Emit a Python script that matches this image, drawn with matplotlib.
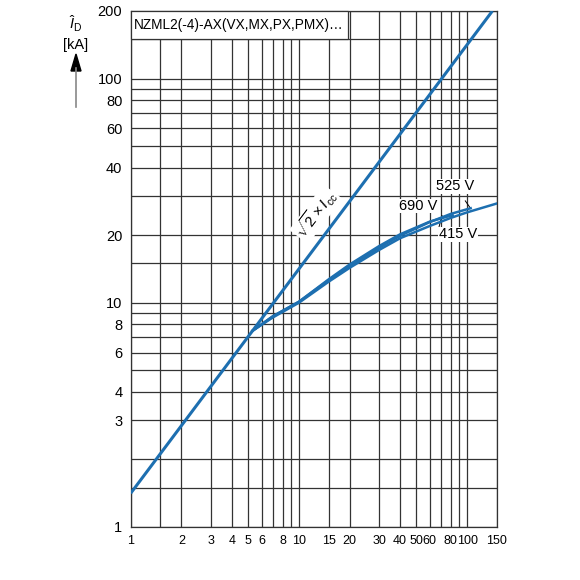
import matplotlib
matplotlib.use('Agg')
import matplotlib.pyplot as plt
import numpy as np
from matplotlib.patches import Rectangle, Polygon
from matplotlib.lines import Line2D

plt.rcParams['font.family'] = ['Liberation Sans', 'DejaVu Sans']
plt.rcParams['mathtext.fontset'] = 'custom'
plt.rcParams['mathtext.rm'] = 'Liberation Sans'
plt.rcParams['mathtext.it'] = 'Liberation Sans:italic'

# grid and tick values
x_grid = [1, 1.5, 2, 3, 4, 5, 6, 7, 8, 9, 10, 15, 20, 30, 40, 50, 60, 70, 80, 90, 100, 150]
x_labels = ['1', '', '2', '3', '4', '5', '6', '', '8', '', '10', '15', '20', '30', '40',
            '50', '60', '', '80', '', '100', '150']
y_grid = [1, 1.5, 2, 3, 4, 5, 6, 7, 8, 9, 10, 15, 20, 30, 40, 50, 60, 70, 80, 90, 100, 150, 200]
y_labels = ['1', '', '', '3', '4', '', '6', '', '8', '', '10', '', '20', '', '40', '',
            '60', '', '80', '', '100', '', '200']

# peak current sqrt(2) x Icc
icc = [1, 141.4]
ip_peak = [1.414, 200]

# let-through curves
x_415 = [5.3, 7, 10, 15, 20, 30, 40, 60, 80, 100, 150]
y_415 = [7.5, 8.6, 10.0, 12.4, 14.3, 17.2, 19.4, 22.0, 23.9, 25.3, 27.7]
x_525 = [5.3, 7, 10, 15, 20, 30, 40, 60, 80, 105]
y_525 = [7.5, 8.7, 10.1, 12.6, 14.6, 17.6, 19.9, 22.9, 24.9, 26.4]
x_690 = [5.3, 7, 10, 15, 20, 30, 40, 60, 82]
y_690 = [7.5, 8.7, 10.1, 12.7, 14.8, 17.9, 20.2, 23.0, 24.6]

blue = '#1d6fb0'
fs = 10.5

fig = plt.figure(figsize=(5.8, 5.8), dpi=100)
ax = fig.add_axes([130.7/580, 1-527/580, (496.7-130.7)/580, (527-11)/580])
ax.set_xscale('log')
ax.set_yscale('log')
ax.set_xlim(1, 150)
ax.set_ylim(1, 200)
ax.set_xticks(x_grid)
ax.set_xticklabels(x_labels)
ax.set_yticks(y_grid)
ax.set_yticklabels(y_labels)
ax.minorticks_off()
ax.tick_params(length=0, labelsize=fs, pad=6)
ax.tick_params(axis='x', labelsize=9)
ax.grid(True, color='#333333', lw=0.9)
for s in ax.spines.values():
    s.set_color('#333333')
    s.set_linewidth(0.9)

ax.plot(icc, ip_peak, color=blue, lw=2.2, solid_capstyle='butt', zorder=6)
ax.plot(x_415, y_415, color=blue, lw=1.8, zorder=6)
ax.plot(x_525, y_525, color=blue, lw=1.8, zorder=6)
ax.plot(x_690, y_690, color=blue, lw=1.8, zorder=6)

# title box
ax.add_patch(Rectangle((1, 150), 18.5, 50, facecolor='white', edgecolor='#333333',
                       lw=0.9, zorder=4, clip_on=False))
ax.text(1.05, 173, 'NZML2(-4)-AX(VX,MX,PX,PMX)…', fontsize=9.8, va='center', ha='left', zorder=5)

# line label
ax.text(12.6, 24.8, r'$\sqrt{2}\times I_{\mathrm{cc}}$', rotation=53, fontsize=11,
        ha='center', va='center', zorder=5, rotation_mode='anchor',
        bbox=dict(facecolor='white', edgecolor='none', pad=0.5))

lead = dict(arrowstyle='-', color='black', lw=0.7)
ax.annotate('525 V', xy=(104.7, 26.4), xytext=(85, 33), fontsize=fs, ha='center', va='center',
            arrowprops=dict(lead, shrinkA=6, shrinkB=0), zorder=5,
            bbox=dict(facecolor='white', edgecolor='none', pad=0.3))
ax.annotate('690 V', xy=(81.9, 24.4), xytext=(51, 27), fontsize=fs, ha='center', va='center',
            arrowprops=dict(lead, shrinkA=10, shrinkB=0), zorder=5,
            bbox=dict(facecolor='white', edgecolor='none', pad=0.3))
ax.annotate('415 V', xy=(71, 24.5), xytext=(68, 20.2), fontsize=fs, ha='left', va='center',
            arrowprops=dict(lead, shrinkA=0, shrinkB=0, relpos=(0, 1)), zorder=5,
            bbox=dict(facecolor='white', edgecolor='none', pad=0.3))

# y axis label with arrow
fig.text(76/580, 1-24/580, r'$\hat{I}_{\mathrm{D}}$', fontsize=fs, ha='center', va='center')
fig.text(76/580, 1-45/580, '[kA]', fontsize=fs, ha='center', va='center')
fig.add_artist(Line2D([76/580, 76/580], [1-107/580, 1-68/580], color='#888888', lw=1.2))
fig.add_artist(Polygon([[71/580, 1-71/580], [81/580, 1-71/580], [76/580, 1-54/580]],
                       closed=True, facecolor='black', edgecolor='black'))

fig.savefig('out.png', dpi=100)
